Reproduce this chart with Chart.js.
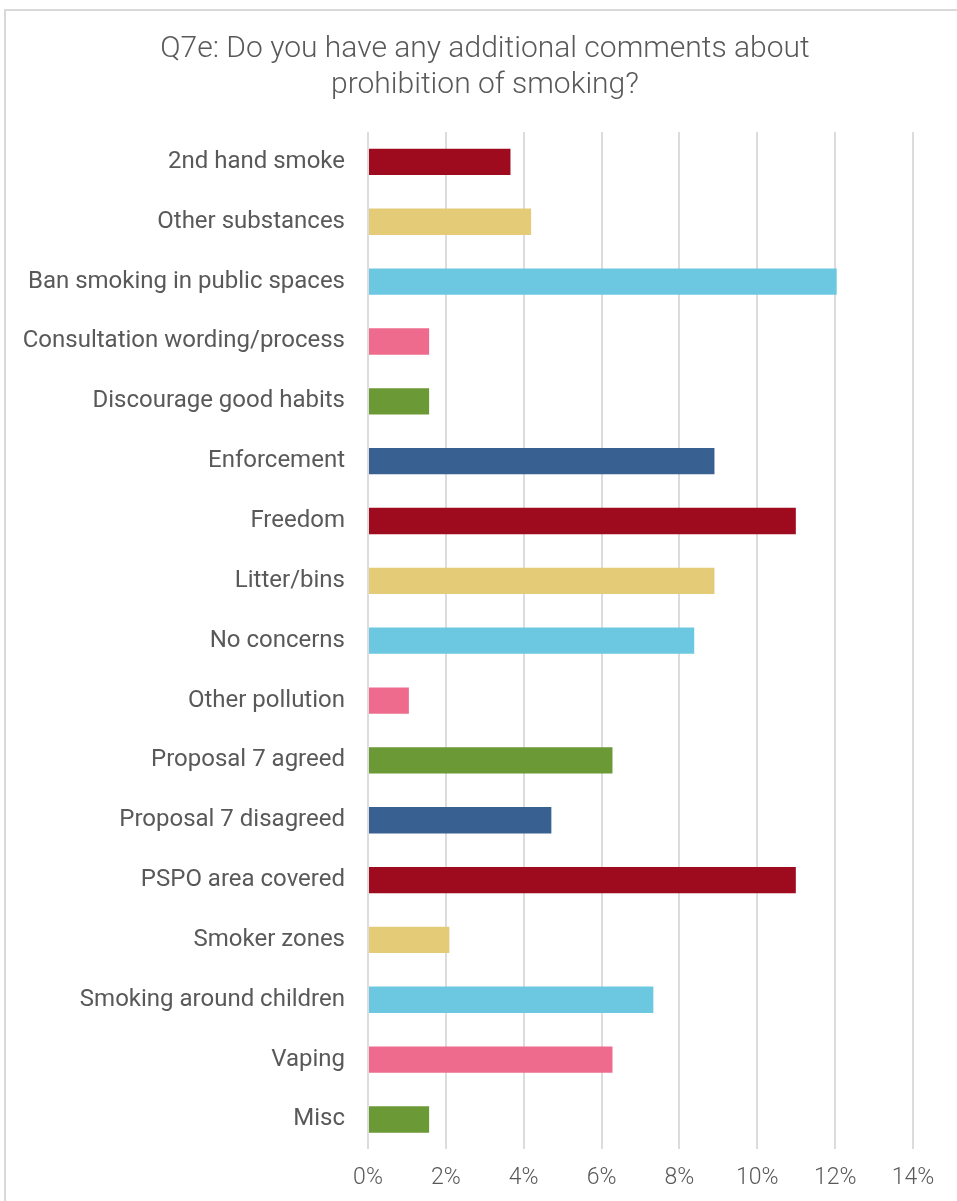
<!DOCTYPE html>
<html>
<head>
<meta charset="utf-8">
<script src="https://cdn.jsdelivr.net/npm/chart.js@4"></script>
<style>
  body { margin: 0; background: #fff; overflow: hidden; }
  #frame { position: absolute; left: 4px; top: 9px; width: 1000px; height: 1300px;
           border-left: 2px solid #d9d9d9; border-top: 2px solid #d9d9d9; }
  #wrap { position: absolute; left: 0; top: 0; width: 957px; height: 1207px; }
</style>
</head>
<body>
<div id="frame"></div>
<div id="wrap"><canvas id="smokingChart"></canvas></div>
<script>
// categories and values (% of responses)
var categories = ["2nd hand smoke", "Other substances", "Ban smoking in public spaces",
  "Consultation wording/process", "Discourage good habits", "Enforcement", "Freedom",
  "Litter/bins", "No concerns", "Other pollution", "Proposal 7 agreed",
  "Proposal 7 disagreed", "PSPO area covered", "Smoker zones",
  "Smoking around children", "Vaping", "Misc"];
var values = [3.66, 4.19, 12.04, 1.57, 1.57, 8.90, 10.99, 8.90, 8.38, 1.05,
  6.28, 4.71, 10.99, 2.09, 7.33, 6.28, 1.57];
var xTicks = [0, 2, 4, 6, 8, 10, 12, 14];

var palette = ["#9e0b1f", "#e3cb78", "#6cc8e0", "#ee6b8e", "#6a9935", "#386192"];
var barColors = categories.map(function (c, i) { return palette[i % palette.length]; });

var textColor = "#595959";

// centre the title over the whole chart box, not just the plot width
var titleShift = {
    id: 'titleShift',
    afterLayout: function (chart) {
        var t = chart.titleBlock;
        if (t) { t.left = 13; t.right = 957; t.width = 944; }
    }
};

var ctx = document.getElementById("smokingChart").getContext('2d');
var smokingChart = new Chart(ctx, {
    type: 'bar',
    data: {
        labels: categories,
        datasets: [{
            data: values,
            backgroundColor: barColors,
            barPercentage: 0.44,
            categoryPercentage: 1
        }]
    },
    options: {
        indexAxis: 'y',
        responsive: true,
        maintainAspectRatio: false,
        animation: false,
        layout: { padding: { top: 0, right: 44, bottom: 0, left: 0 } },
        plugins: {
            legend: { display: false },
            tooltip: { enabled: false },
            title: {
                display: true,
                text: ["Q7e: Do you have any additional comments about", "prohibition of smoking?"],
                color: textColor,
                font: { family: "Roboto", size: 30, weight: 300, lineHeight: 1.2 },
                padding: { top: 31, bottom: 29 }
            }
        },
        scales: {
            x: {
                min: 0,
                max: 14,
                afterBuildTicks: function (scale) {
                    scale.ticks = xTicks.map(function (v) { return { value: v }; });
                },
                grid: { color: "#dcdcdc", lineWidth: 2, drawTicks: false },
                border: { display: false },
                ticks: {
                    color: textColor,
                    padding: 15,
                    font: { family: "Roboto", size: 23, weight: 300 },
                    callback: function (v) { return v + "%"; }
                }
            },
            y: {
                grid: { display: false, drawTicks: false },
                border: { display: false },
                afterFit: function (scale) { scale.width = 368; },
                ticks: {
                    color: textColor,
                    padding: 23,
                    font: { family: "Roboto", size: 24 }
                }
            }
        }
    },
    plugins: [titleShift]
});
</script>
</body>
</html>
